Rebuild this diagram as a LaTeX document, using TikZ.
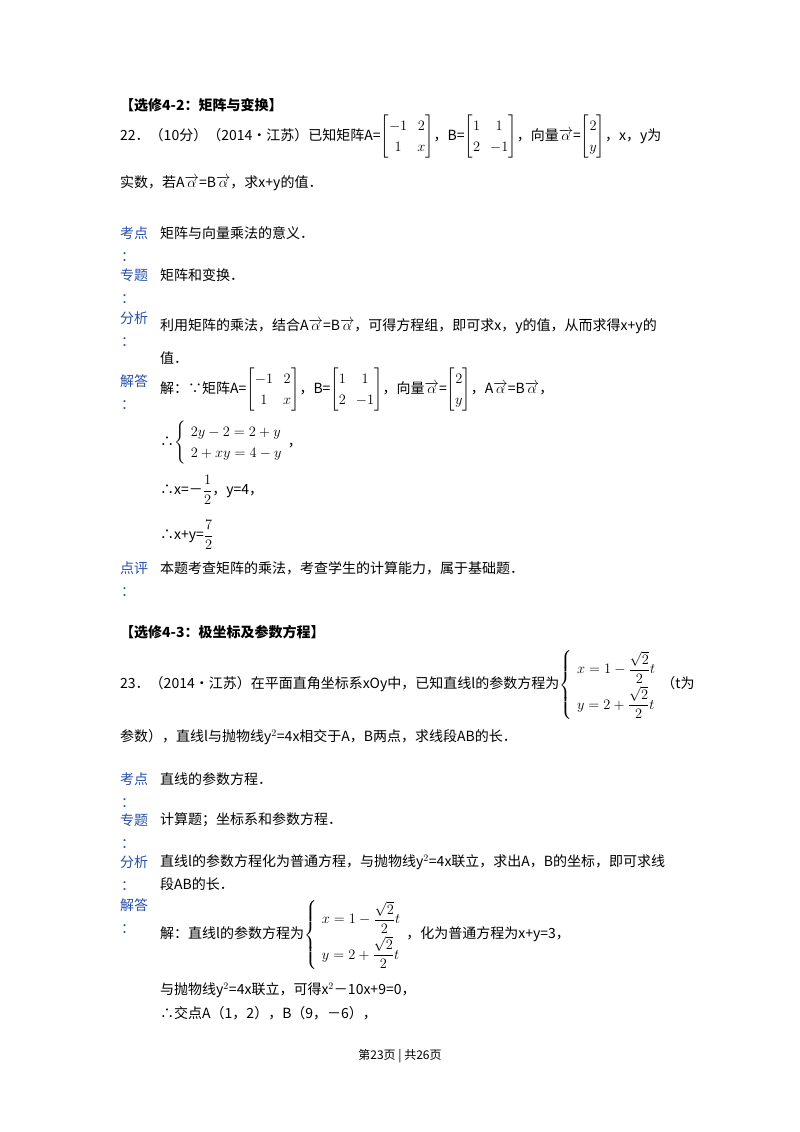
\documentclass[tikz,border=0pt]{standalone}
\usepackage{amsmath}
\usepackage{fontspec}
\setmainfont{Noto Sans CJK SC}
\newcommand{\fs}{\fontsize{14}{17}\selectfont}
\newcommand{\va}{\overrightarrow{\alpha}}
\renewcommand{\arraystretch}{1.25}
\definecolor{lab}{RGB}{40,80,170}
\begin{document}
\begin{tikzpicture}[x=1pt,y=-1pt,
  tx/.style={anchor=west,inner sep=0pt,font=\fs},
  lb/.style={anchor=west,inner sep=0pt,font=\fs,text=lab}]
\useasboundingbox (0,0) rectangle (800,1132);
\fill[white] (0,0) rectangle (800,1132);
\node[tx,font=\fs\bfseries] (h1) at (120,105) {【选修4-2：矩阵与变换】};
\node[tx] (l1) at (120,137) {22．（10分）（2014•江苏）已知矩阵A=$\begin{bmatrix}-1&2\\1&x\end{bmatrix}$，B=$\begin{bmatrix}1&1\\2&-1\end{bmatrix}$，向量$\va$=$\begin{bmatrix}2\\y\end{bmatrix}$，x，y为};
\node[tx] (l2) at (120,183) {实数，若A$\va$=B$\va$，求x+y的值．};
\node[lb] (k1) at (120,233) {考点}; \node[lb] (k1c) at (121,257) {：};
\node[tx] (k1t) at (160,233) {矩阵与向量乘法的意义．};
\node[lb] (z1) at (120,275) {专题}; \node[lb] (z1c) at (121,299) {：};
\node[tx] (z1t) at (160,275) {矩阵和变换．};
\node[lb] (f1) at (120,318) {分析}; \node[lb] (f1c) at (121,342) {：};
\node[tx] (f1t) at (160,326) {利用矩阵的乘法，结合A$\va$=B$\va$，可得方程组，即可求x，y的值，从而求得x+y的};
\node[tx] (f1u) at (160,358) {值．};
\node[lb] (j1) at (120,381) {解答}; \node[lb] (j1c) at (121,405) {：};
\node[tx] (j1t) at (160,390) {解：∵矩阵A=$\begin{bmatrix}-1&2\\1&x\end{bmatrix}$，B=$\begin{bmatrix}1&1\\2&-1\end{bmatrix}$，向量$\va$=$\begin{bmatrix}2\\y\end{bmatrix}$，A$\va$=B$\va$，};
\node[tx] (j1a) at (160,443) {∴$\left\{\begin{array}{l}2y-2=2+y\\2+xy=4-y\end{array}\right.$，};
\node[tx] (j1b) at (160,490) {∴x=－$\dfrac{1}{2}$，y=4，};
\node[tx] (j1d) at (160,535) {∴x+y=$\dfrac{7}{2}$};
\node[lb] (d1) at (120,568) {点评}; \node[lb] (d1c) at (121,592) {：};
\node[tx] (d1t) at (160,568) {本题考查矩阵的乘法，考查学生的计算能力，属于基础题．};
\node[tx,font=\fs\bfseries] (h2) at (120,632) {【选修4-3：极坐标及参数方程】};
\node[tx] (m1) at (120,685) {23．（2014•江苏）在平面直角坐标系xOy中，已知直线l的参数方程为$\left\{\begin{array}{l}x=1-\dfrac{\sqrt2}{2}t\\[6pt] y=2+\dfrac{\sqrt2}{2}t\end{array}\right.$（t为};
\node[tx] (m2) at (120,737) {参数），直线l与抛物线y$^2$=4x相交于A，B两点，求线段AB的长．};
\node[lb] (k2) at (120,779) {考点}; \node[lb] (k2c) at (121,803) {：};
\node[tx] (k2t) at (160,779) {直线的参数方程．};
\node[lb] (z2) at (120,820) {专题}; \node[lb] (z2c) at (121,844) {：};
\node[tx] (z2t) at (160,820) {计算题；坐标系和参数方程．};
\node[lb] (f2) at (120,862) {分析}; \node[lb] (f2c) at (121,886) {：};
\node[tx] (f2t) at (160,862) {直线l的参数方程化为普通方程，与抛物线y$^2$=4x联立，求出A，B的坐标，即可求线};
\node[tx] (f2u) at (160,884) {段AB的长．};
\node[lb] (j2) at (120,905) {解答}; \node[lb] (j2c) at (121,929) {：};
\node[tx] (j2t) at (160,935) {解：直线l的参数方程为$\left\{\begin{array}{l}x=1-\dfrac{\sqrt2}{2}t\\[6pt] y=2+\dfrac{\sqrt2}{2}t\end{array}\right.$，化为普通方程为x+y=3，};
\node[tx] (j2a) at (160,990) {与抛物线y$^2$=4x联立，可得x$^2$－10x+9=0，};
\node[tx] (j2b) at (160,1013) {∴交点A（1，2），B（9，－6），};
\node[inner sep=0pt,font=\fontsize{12}{14}\selectfont] (ft) at (400,1056) {第23页 | 共26页};
\end{tikzpicture}
\end{document}
